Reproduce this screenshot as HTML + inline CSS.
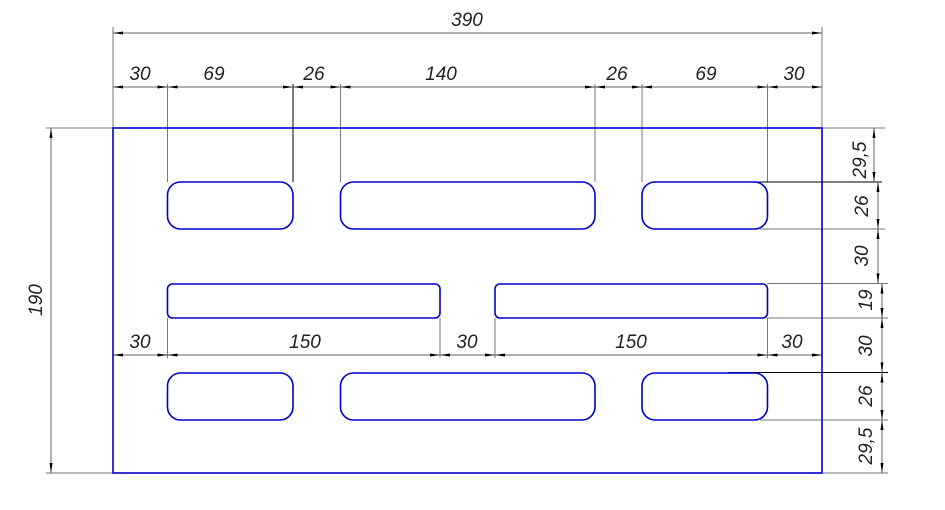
<!DOCTYPE html>
<html><head><style>body{margin:0;background:#fff}svg{display:block}text{font-family:"Liberation Sans",sans-serif;font-style:italic;font-size:19px;fill:#222}</style></head><body>
<svg width="945" height="510" viewBox="0 0 945 510">
<defs>
<marker id="a" viewBox="0 0 10 4" refX="10" refY="2" markerWidth="10" markerHeight="4" orient="auto-start-reverse" markerUnits="userSpaceOnUse"><path d="M0,0.5L10,2L0,3.5z" fill="#000"/></marker>
</defs>
<g stroke="#777" stroke-width="1" fill="none">
<!-- vertical extension lines top -->
<line x1="113" y1="27" x2="113" y2="128"/>
<line x1="822" y1="27" x2="822" y2="128"/>
<line x1="167.5" y1="84" x2="167.5" y2="182"/>
<line x1="293" y1="84" x2="293" y2="182" stroke="#000"/>
<line x1="340.5" y1="84" x2="340.5" y2="182"/>
<line x1="595" y1="84" x2="595" y2="182"/>
<line x1="642" y1="84" x2="642" y2="182"/>
<line x1="767.5" y1="84" x2="767.5" y2="182"/>
<!-- middle row extension -->
<line x1="167.5" y1="318" x2="167.5" y2="358"/>
<line x1="440" y1="318" x2="440" y2="358"/>
<line x1="495" y1="318" x2="495" y2="358"/>
<line x1="767.5" y1="318" x2="767.5" y2="358"/>
<!-- left -->
<line x1="46" y1="128" x2="113" y2="128"/>
<line x1="46" y1="473" x2="113" y2="473"/>
<!-- right extensions -->
<line x1="822" y1="128" x2="885" y2="128"/>
<line x1="728" y1="182" x2="882" y2="182" stroke="#000"/>
<line x1="760" y1="229" x2="885" y2="229"/>
<line x1="767" y1="283.5" x2="888" y2="283.5"/>
<line x1="767" y1="318" x2="888" y2="318"/>
<line x1="728" y1="372.5" x2="888" y2="372.5" stroke="#000"/>
<line x1="760" y1="420" x2="888" y2="420"/>
<line x1="822" y1="473" x2="888" y2="473"/>
</g>
<g stroke="#666" stroke-width="1" marker-start="url(#a)" marker-end="url(#a)">
<line x1="113" y1="33" x2="822" y2="33"/>
<line x1="113" y1="87" x2="167.5" y2="87"/>
<line x1="167.5" y1="87" x2="293" y2="87"/>
<line x1="293" y1="87" x2="340.5" y2="87"/>
<line x1="340.5" y1="87" x2="595" y2="87"/>
<line x1="595" y1="87" x2="642" y2="87"/>
<line x1="642" y1="87" x2="767.5" y2="87"/>
<line x1="767.5" y1="87" x2="822" y2="87"/>
<line x1="113" y1="355" x2="167.5" y2="355"/>
<line x1="167.5" y1="355" x2="440" y2="355"/>
<line x1="440" y1="355" x2="495" y2="355"/>
<line x1="495" y1="355" x2="767.5" y2="355"/>
<line x1="767.5" y1="355" x2="822" y2="355"/>
<line x1="51" y1="128" x2="51" y2="473"/>
<line x1="874" y1="128" x2="874" y2="182"/>
<line x1="878" y1="182" x2="878" y2="229"/>
<line x1="878" y1="229" x2="878" y2="283.5"/>
<line x1="882" y1="283.5" x2="882" y2="318"/>
<line x1="882" y1="318" x2="882" y2="372.5"/>
<line x1="882" y1="372.5" x2="882" y2="420"/>
<line x1="882" y1="420" x2="882" y2="473"/>
</g>
<g stroke="#00c" stroke-width="1.6" fill="none">
<rect x="113" y="128" width="709" height="345"/>
<rect x="167.5" y="182" width="125.5" height="47" rx="13"/>
<rect x="340.5" y="182" width="254.5" height="47" rx="13"/>
<rect x="642" y="182" width="125.5" height="47" rx="13"/>
<rect x="167.5" y="284" width="272.5" height="34" rx="5"/>
<rect x="495" y="284" width="272.5" height="34" rx="5"/>
<rect x="167.5" y="373" width="125.5" height="47" rx="13"/>
<rect x="340.5" y="373" width="254.5" height="47" rx="13"/>
<rect x="642" y="373" width="125.5" height="47" rx="13"/>
</g>
<g text-anchor="middle">
<text x="467" y="26">390</text>
<text x="140" y="80">30</text>
<text x="214" y="80">69</text>
<text x="314" y="80">26</text>
<text x="441" y="80">140</text>
<text x="617" y="80">26</text>
<text x="706" y="80">69</text>
<text x="794" y="80">30</text>
<text x="140" y="348">30</text>
<text x="305" y="348">150</text>
<text x="467" y="348">30</text>
<text x="631" y="348">150</text>
<text x="792" y="348">30</text>
<text transform="translate(42,300) rotate(-90)">190</text>
<text transform="translate(866,160) rotate(-90)">29,5</text>
<text transform="translate(868,206) rotate(-90)">26</text>
<text transform="translate(868,256) rotate(-90)">30</text>
<text transform="translate(872,300) rotate(-90)">19</text>
<text transform="translate(872,346) rotate(-90)">30</text>
<text transform="translate(872,396) rotate(-90)">26</text>
<text transform="translate(872,446) rotate(-90)">29,5</text>
</g>
</svg>
</body></html>
